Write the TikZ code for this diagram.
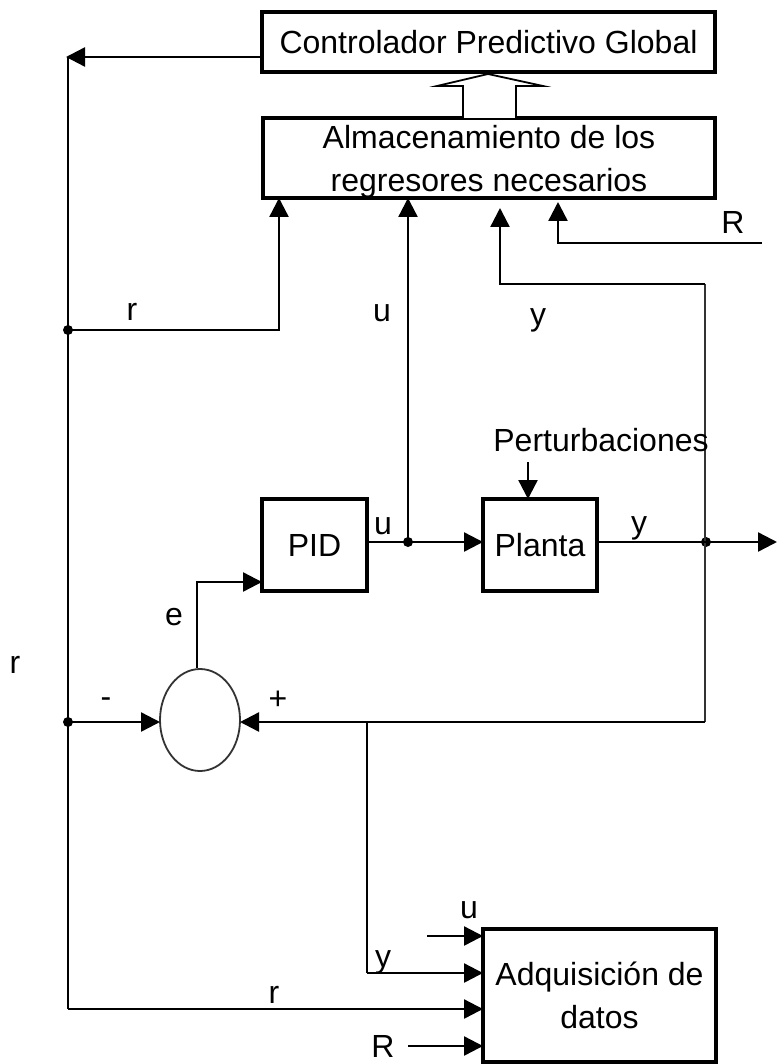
\documentclass[tikz,border=0pt]{standalone}
\usepackage{fontspec}
\setmainfont{Liberation Sans}
\usetikzlibrary{arrows.meta,shapes.geometric}
\begin{document}
\begin{tikzpicture}[x=1pt,y=-1pt,
  every node/.style={font=\fontsize{32}{43}\selectfont, inner sep=0pt, outer sep=0pt},
  blk/.style={draw, line width=4pt, inner sep=0pt, align=center},
  wire/.style={line width=2.4pt},
  thinwire/.style={line width=1.8pt, draw=black!80},
  sig/.style={wire, -{Triangle[length=19pt,width=19pt]}},
  dot/.style={circle, fill, minimum size=10pt, inner sep=0pt}]
\useasboundingbox (0,0) rectangle (778,1064);
% blocks
\node[blk, minimum width=453pt, minimum height=60pt] (ctrl) at (488.5,42) {Controlador Predictivo Global};
\node[blk, minimum width=452pt, minimum height=80pt] (alm) at (489,158) {};
\node[align=center] (almtxt) at (489,162) {Almacenamiento de los\\regresores necesarios};
\node[blk, minimum width=105pt, minimum height=92pt] (pid) at (314.5,545) {PID};
\node[blk, minimum width=114pt, minimum height=92pt] (planta) at (540,545) {Planta};
\node[blk, minimum width=233pt, minimum height=133pt] (adq) at (599.5,995.5) {Adquisición de\\datos};
\node[ellipse, draw=black!80, line width=1.8pt, minimum width=80pt, minimum height=102pt] (sum) at (200,720) {};
% hollow arrow
\draw[line width=1.8pt, fill=white] (463,118) -- (463,86) -- (437,86) -- (488,74) -- (543,86) -- (516,86) -- (516,118);
% junctions
\node[dot] (jr1) at (68,330) {};
\node[dot] (jr2) at (68,722) {};
\node[dot] (ju) at (408,542) {};
\node[dot] (jy) at (706,542) {};
% coordinates
\coordinate (ctrlout) at (262,57);
\coordinate (lt) at (66,57);
\coordinate (ltop) at (68,57);
\coordinate (lb) at (68,1009);
\coordinate (alm_r) at (279,198);
\coordinate (alm_u) at (408,198);
\coordinate (alm_y) at (500,208);
\coordinate (alm_R) at (558,202);
\coordinate (yturn) at (705,284);
\coordinate (ybot) at (705,722);
\coordinate (Rin) at (762,243);
\coordinate (out) at (777,542);
\coordinate (etop) at (197,668);
\coordinate (ecorner) at (197,582);
\coordinate (fbranch) at (367,722);
\coordinate (ycorner) at (367,973);
\coordinate (uin) at (427,936);
\coordinate (Radq) at (408,1046);
\coordinate (pert) at (528,462);
% connectors
\draw[sig] (ctrlout) -- (lt);
\draw[wire] (ltop) -- (lb);
\draw[sig] (lb) -- (lb -| adq.west);
\draw[sig] (jr1.center) -| (alm_r);
\draw[sig] (ju.center) -- (alm_u);
\draw[thinwire] (ybot) -- (yturn);
\draw[sig] (yturn) -| (alm_y);
\draw[sig] (Rin) -| (alm_R);
\draw[sig] (pid.east |- ju) -- (planta.west |- ju);
\draw[sig] (planta.east |- jy) -- (out);
\draw[sig] (pert) -- (planta.north -| pert);
\draw[sig] (etop) -- (ecorner) -- (pid.west |- ecorner);
\draw[sig] (jr2.center) -- (sum.west |- jr2);
\draw[sig] (ybot) -- (sum.east |- ybot);
\draw[wire] (fbranch) -- (ycorner);
\draw[sig] (ycorner) -- (ycorner -| adq.west);
\draw[sig] (uin) -- (uin -| adq.west);
\draw[sig] (Radq) -- (Radq -| adq.west);
% labels
\node (lr1) at (132,312) {r};
\node (lu1) at (382,313) {u};
\node (ly1) at (538,320) {y};
\node (lR1) at (733,222) {R};
\node (lpert) at (601,440) {Perturbaciones};
\node (lu2) at (383,526) {u};
\node (ly2) at (639,528) {y};
\node (le) at (174,617) {e};
\node (lminus) at (106,703) {-};
\node (lplus) at (278,700) {+};
\node (lrleft) at (15,665) {r};
\node (lu3) at (469,910) {u};
\node (ly3) at (383,962) {y};
\node (lr3) at (274,995) {r};
\node (lR3) at (383,1046) {R};
\end{tikzpicture}
\end{document}
